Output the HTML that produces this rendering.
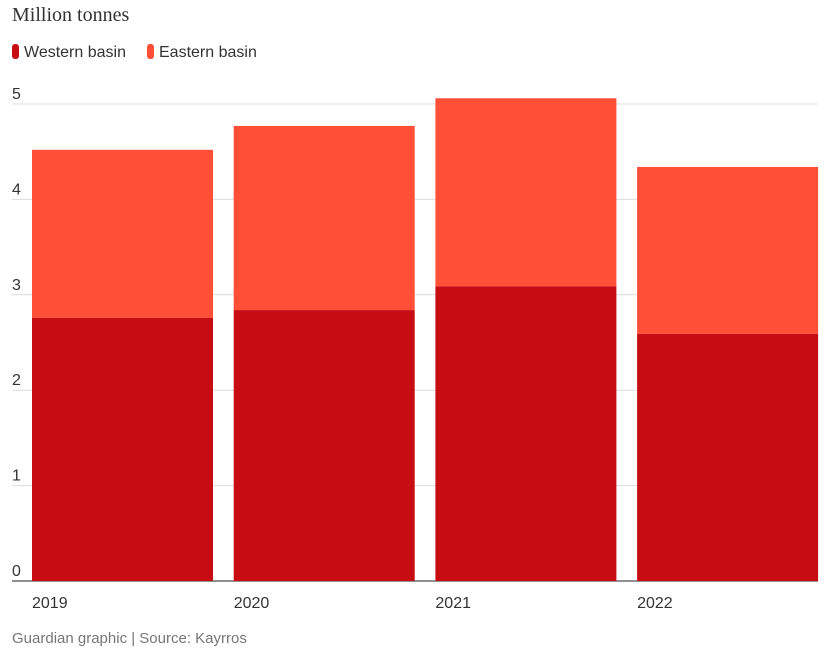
<!DOCTYPE html>
<html><head><meta charset="utf-8"><style>
body{margin:0;background:#fff;width:832px;height:668px;overflow:hidden;font-family:"Liberation Sans",sans-serif;}
#t{position:absolute;left:12px;top:4px;font-family:"Liberation Serif",serif;font-size:20px;color:#333;}
.lg{position:absolute;top:44px;font-size:16px;color:#333;}
.sw{display:inline-block;width:7px;height:15px;border-radius:3px;vertical-align:-2px;margin-right:5px;}
#src{position:absolute;left:12px;top:630px;font-size:15px;color:#767676;}
svg{position:absolute;left:0;top:0;}
</style></head><body>
<div id="t">Million tonnes</div>
<div class="lg" style="left:12px"><span class="sw" style="background:#c70c13"></span>Western basin</div>
<div class="lg" style="left:147px"><span class="sw" style="background:#ff5037"></span>Eastern basin</div>
<svg id="c" width="832" height="668"></svg>
<div id="src">Guardian graphic | Source: Kayrros</div>
<script>
const years=["2019","2020","2021","2022"];
const western=[2.76,2.84,3.09,2.59];
const eastern=[1.76,1.93,1.97,1.75];
const ticks=[0,1,2,3,4,5];
const svg=document.getElementById('c');
const NS='http://www.w3.org/2000/svg';
const y0=581,ppu=95.4;
const y=v=>y0-v*ppu;
const x=i=>32+i*201.7;
const bw=181;
function mk(t,a){const e=document.createElementNS(NS,t);for(const k in a)e.setAttribute(k,a[k]);svg.appendChild(e);return e;}
ticks.forEach(v=>{
  const l=mk('line',{x1:12,x2:818,y1:y(v),y2:y(v),stroke:v===0?'#222':'#dcdcdc','stroke-width':1});
  
  
  const t=mk('text',{x:12,y:y(v)-5,'font-size':16,fill:'#333','font-family':'Liberation Sans, sans-serif'});
  t.textContent=v;
  
  
});
years.forEach((yr,i)=>{
  const w=mk('rect',{x:x(i),y:y(western[i]),width:bw,height:western[i]*ppu,fill:'#c70c13'});
  
  
  const e=mk('rect',{x:x(i),y:y(western[i]+eastern[i]),width:bw,height:eastern[i]*ppu,fill:'#ff5037'});
  
  
  const t=mk('text',{x:x(i),y:608,'font-size':16,fill:'#333','font-family':'Liberation Sans, sans-serif'});
  t.textContent=yr;
  
  
});
</script>
</body></html>
